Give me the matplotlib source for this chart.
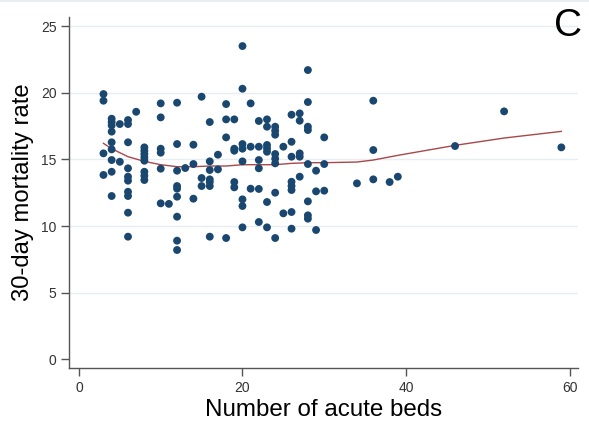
import matplotlib
matplotlib.use("Agg")
import matplotlib.pyplot as plt
from matplotlib.lines import Line2D

plt.rcParams['font.family'] = ['Liberation Sans', 'DejaVu Sans']

# number of acute beds -> 30-day mortality rates read for that bed count
beds = [3, 4, 5, 6, 7, 8, 10, 11, 12, 13, 14, 15, 16, 17, 18, 19, 20, 21,
        22, 23, 24, 25, 26, 27, 28, 29, 30, 34, 36, 38, 39, 46, 52, 59]
rates = [
    [19.9, 19.4, 15.45, 13.83],
    [18.05, 17.8, 17.55, 17.08, 16.28, 15.75, 14.95, 14.07, 12.25],
    [17.65, 14.82],
    [17.95, 17.65, 16.28, 14.33, 13.7, 13.4, 12.57, 12.25, 11.0, 9.2],
    [18.57],
    [15.9, 15.65, 15.4, 15.15, 14.9, 14.07, 13.77, 13.45],
    [19.2, 18.15, 15.8, 15.5, 14.3, 11.7],
    [11.66],
    [19.25, 16.15, 14.15, 13.0, 12.8, 12.2, 10.7, 8.9, 8.2],
    [14.35],
    [16.1, 14.65, 12.05],
    [19.7, 13.6, 13.0],
    [17.8, 14.85, 14.2, 13.5, 13.3, 13.0, 9.2],
    [15.35, 14.25],
    [19.15, 18.0, 16.65, 9.1],
    [18.0, 15.8, 15.65, 13.3, 12.9],
    [23.5, 20.3, 16.15, 15.8, 14.85, 12.0, 11.5, 9.9],
    [19.2, 15.95, 12.8],
    [17.88, 15.95, 14.95, 14.33, 12.78, 10.3],
    [18.0, 17.45, 16.08, 15.83, 15.57, 11.8, 9.9],
    [17.45, 17.15, 16.85, 15.4, 15.05, 14.7, 12.5, 9.1],
    [15.95, 10.95],
    [18.35, 16.32, 15.2, 13.32, 13.0, 12.7, 11.05, 9.8],
    [18.45, 17.9, 15.45, 15.2, 13.7],
    [21.7, 19.3, 17.45, 17.2, 14.65, 11.85, 10.8, 10.55],
    [14.15, 12.6, 9.7],
    [16.65, 14.65, 12.65],
    [13.2],
    [19.4, 15.7, 13.5],
    [13.3],
    [13.7],
    [16.0],
    [18.6],
    [15.9],
]

# lowess smoother
smooth_x = [3, 4, 6, 8, 10, 12, 14, 16, 18, 20, 22, 24, 26, 28, 30, 34, 36, 39, 46, 52, 59]
smooth_y = [16.2, 15.8, 15.2, 14.85, 14.6, 14.45, 14.45, 14.5, 14.5, 14.6, 14.6,
            14.6, 14.7, 14.75, 14.75, 14.8, 14.95, 15.3, 16.05, 16.6, 17.1]

x_ticks = [0, 20, 40, 60]
y_ticks = [0, 5, 10, 15, 20, 25]

xs, ys = [], []
for b, r in zip(beds, rates):
    xs += [b] * len(r)
    ys += r

fig = plt.figure(figsize=(5.89, 4.23), dpi=100)
ax = fig.add_axes([0.1171, 0.1293, 0.8637, 0.8305])

for t in y_ticks[1:]:
    ax.axhline(t, color='#e8eef0', lw=1, zorder=0)

ax.plot(smooth_x, smooth_y, color='#a8484a', lw=1, zorder=2)
ax.scatter(xs, ys, s=32, color='#1a476f', edgecolors='none', zorder=3)

ax.set_xlim(-1.22, 61.0)
ax.set_ylim(-0.675, 25.68)
ax.set_xticks(x_ticks)
ax.set_yticks(y_ticks)
ax.tick_params(direction='out', length=6, width=1, color='#555555',
               labelsize=10, labelcolor='#333333', pad=3)
for s in ['top', 'right']:
    ax.spines[s].set_visible(False)
for s in ['left', 'bottom']:
    ax.spines[s].set_color('#555555')
    ax.spines[s].set_linewidth(1)

ax.set_xlabel('Number of acute beds', fontsize=17.4, labelpad=3)
ax.set_ylabel('30-day mortality rate', fontsize=17.2, labelpad=5)

fig.text(0.964, 0.938, 'C', fontsize=28, ha='center', va='center')
fig.add_artist(Line2D([0, 1], [0.997, 0.997], color='#e8eef0', lw=1.5,
                      transform=fig.transFigure))

fig.savefig('out.png', dpi=100)
